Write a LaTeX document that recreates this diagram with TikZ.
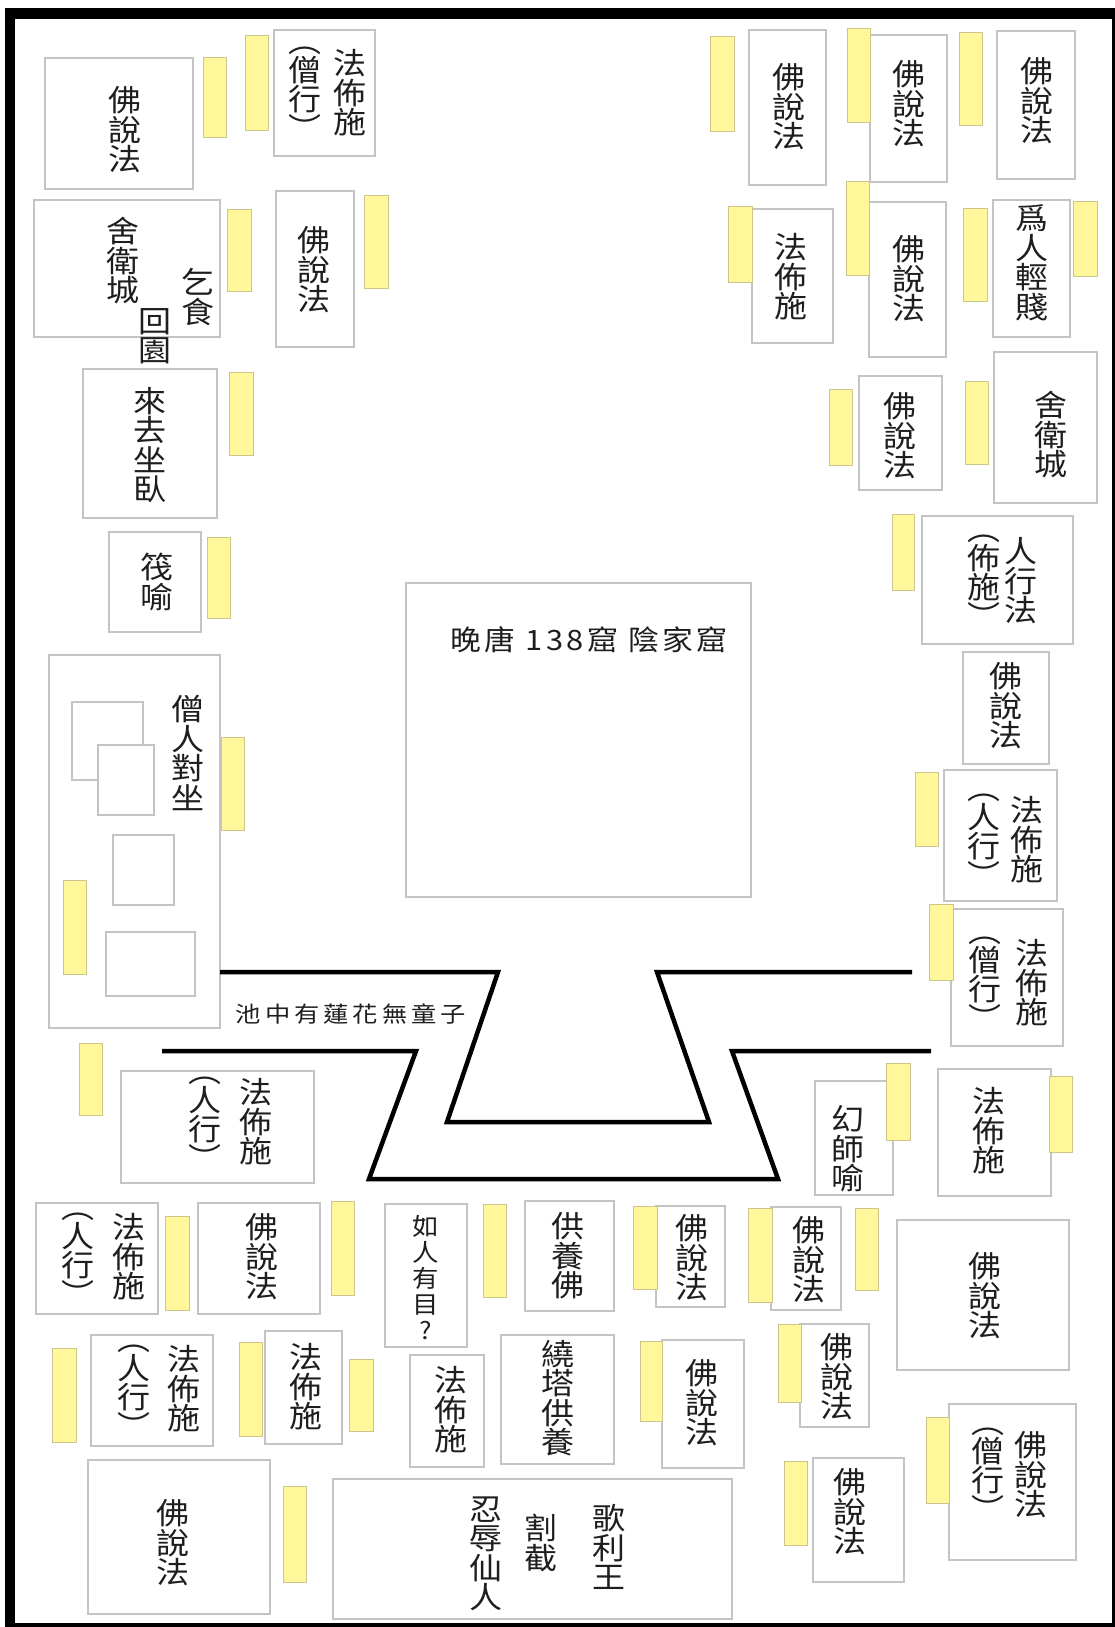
\documentclass[tikz,border=0pt]{standalone}
\usepackage{fontspec}
\newfontfamily\cjk[FakeStretch=1.1]{Noto Sans CJK TC}
\newfontfamily\cjkti[FakeStretch=1.1,LetterSpace=12]{Noto Sans CJK TC}
\newfontfamily\cjkpl[FakeStretch=1.15,LetterSpace=18]{Noto Sans CJK TC}
\definecolor{boxgray}{RGB}{196,196,196}
\definecolor{yelfill}{RGB}{255,247,153}
\definecolor{yeledge}{RGB}{205,198,140}
\definecolor{txtc}{RGB}{30,30,30}
\newcommand\pbx[4]{\draw[pbox] (#1,#2) rectangle (#3,#4);}
\newcommand\ybx[4]{\draw[yelbar] (#1,#2) rectangle (#3,#4);}
\newcommand\brkcol[2]{︵\\[-1pt]#1\\#2\\[-1pt]︶}
\tikzset{
  pbox/.style={draw=boxgray, line width=1.3pt, fill=white},
  yelbar/.style={draw=yeledge, line width=0.9pt, fill=yelfill},
  vt/.style={font={\cjk\fontsize{30}{29.5}\selectfont\lineskiplimit=-50pt}, align=center, inner sep=0pt, text=txtc},
  vts/.style={font={\cjk\fontsize{24}{26}\selectfont\lineskiplimit=-50pt}, align=center, inner sep=0pt, text=txtc},
  ttl/.style={font={\cjkti\fontsize{28}{30}\selectfont}, inner sep=0pt, text=txtc},
  pooltxt/.style={font={\cjkpl\fontsize{22}{24}\selectfont}, inner sep=0pt, text=txtc},
  poolline/.style={line width=4.5pt, black}
}
\begin{document}
\begin{tikzpicture}[x=1pt,y=-1pt]
\useasboundingbox (0,0) rectangle (1115,1627);
% frame
\fill[white] (0,0) rectangle (1115,1627);
\fill[black] (5,8) rectangle (1115,1627);
\fill[white] (15,19) rectangle (1112,1623);

% boxes: top-left
\pbx{45}{58}{193}{189}
\pbx{274}{30}{375}{156}
\pbx{34}{200}{220}{337}
\pbx{276}{191}{354}{347}
\pbx{83}{369}{217}{518}
\pbx{109}{532}{201}{632}
\pbx{49}{655}{220}{1028}
\pbx{72}{702}{143}{780}
\pbx{98}{745}{154}{815}
\pbx{113}{835}{174}{905}
\pbx{106}{932}{195}{996}
% centre
\pbx{406}{583}{751}{897}
\pbx{121}{1071}{314}{1183}
% top-right
\pbx{749}{30}{826}{185}
\pbx{870}{35}{947}{182}
\pbx{997}{31}{1075}{179}
\pbx{752}{209}{833}{343}
\pbx{869}{202}{946}{357}
\pbx{993}{200}{1070}{337}
\pbx{859}{376}{942}{490}
\pbx{994}{352}{1097}{503}
\pbx{922}{516}{1073}{644}
\pbx{963}{652}{1049}{764}
\pbx{944}{770}{1057}{901}
\pbx{951}{909}{1063}{1046}
\pbx{815}{1081}{893}{1195}
\pbx{938}{1069}{1051}{1196}
% bottom rows
\pbx{36}{1203}{158}{1314}
\pbx{198}{1203}{320}{1314}
\pbx{385}{1204}{467}{1347}
\pbx{525}{1201}{614}{1311}
\pbx{656}{1206}{725}{1307}
\pbx{771}{1207}{841}{1310}
\pbx{897}{1220}{1069}{1370}
\pbx{91}{1335}{213}{1446}
\pbx{265}{1331}{342}{1444}
\pbx{410}{1355}{484}{1467}
\pbx{501}{1335}{614}{1464}
\pbx{662}{1340}{744}{1468}
\pbx{800}{1324}{869}{1427}
\pbx{949}{1404}{1076}{1560}
\pbx{813}{1458}{904}{1582}
\pbx{88}{1460}{270}{1614}
\pbx{333}{1479}{732}{1619}

% yellow bars
\ybx{203}{57}{226}{137}
\ybx{245}{35}{268}{130}
\ybx{227}{209}{251}{291}
\ybx{364}{195}{388}{288}
\ybx{229}{372}{253}{455}
\ybx{207}{537}{230}{618}
\ybx{63}{880}{86}{974}
\ybx{221}{737}{244}{830}
\ybx{79}{1043}{102}{1115}
\ybx{710}{36}{734}{131}
\ybx{847}{28}{870}{122}
\ybx{959}{32}{982}{125}
\ybx{728}{206}{752}{282}
\ybx{846}{181}{869}{275}
\ybx{963}{208}{987}{301}
\ybx{1073}{201}{1097}{276}
\ybx{829}{389}{852}{465}
\ybx{965}{381}{988}{464}
\ybx{892}{514}{914}{590}
\ybx{915}{772}{938}{846}
\ybx{929}{904}{953}{980}
\ybx{886}{1063}{910}{1140}
\ybx{1049}{1076}{1072}{1152}
\ybx{165}{1216}{189}{1310}
\ybx{331}{1201}{354}{1295}
\ybx{483}{1204}{506}{1297}
\ybx{633}{1206}{657}{1289}
\ybx{748}{1208}{772}{1302}
\ybx{855}{1208}{878}{1290}
\ybx{52}{1348}{76}{1442}
\ybx{239}{1342}{262}{1436}
\ybx{349}{1359}{373}{1431}
\ybx{640}{1341}{662}{1421}
\ybx{778}{1324}{801}{1402}
\ybx{926}{1417}{949}{1503}
\ybx{784}{1461}{807}{1545}
\ybx{283}{1486}{306}{1582}

% pool outline
\coordinate (pa1) at (220,972);
\coordinate (pa2) at (498,972);
\coordinate (pa3) at (447,1122);
\coordinate (pa4) at (709,1122);
\coordinate (pa5) at (657,972);
\coordinate (pa6) at (912,972);
\coordinate (pb1) at (162,1051);
\coordinate (pb2) at (416,1051);
\coordinate (pb3) at (369,1179);
\coordinate (pb4) at (778,1179);
\coordinate (pb5) at (732,1051);
\coordinate (pb6) at (931,1051);
\draw[poolline] (pa1) -- (pa2) -- (pa3) -- (pa4) -- (pa5) -- (pa6);
\draw[poolline] (pb1) -- (pb2) -- (pb3) -- (pb4) -- (pb5) -- (pb6);

% texts
\node[vt] (tA) at (125,130) {佛\\說\\法};
\node[vt] (tB1) at (350,93) {法\\佈\\施};
\node[vt] (tB2) at (305,93) {\brkcol{僧}{行}};
\node[vt] (tC1) at (123,261) {舍\\衛\\城};
\node[vt] (tC2) at (198,297) {乞\\食};
\node[vt] (tC3) at (155,336) {回\\園};
\node[vt] (tD) at (314,270) {佛\\說\\法};
\node[vt] (tE) at (150,445) {來\\去\\坐\\臥};
\node[vt] (tF) at (157,582) {筏\\喻};
\node[vt] (tG) at (188,753) {僧\\人\\對\\坐};
\node[ttl] (tH) at (589,640) {晚唐 138窟 陰家窟};
\node[pooltxt] (tP) at (351,1014) {池中有蓮花無童子};
\node[vt] (tI1) at (256,1122) {法\\佈\\施};
\node[vt] (tI2) at (205,1123) {\brkcol{人}{行}};
\node[vt] (tJ) at (789,107) {佛\\說\\法};
\node[vt] (tK) at (909,104) {佛\\說\\法};
\node[vt] (tL) at (1037,101) {佛\\說\\法};
\node[vt] (tM) at (791,277) {法\\佈\\施};
\node[vt] (tN) at (909,279) {佛\\說\\法};
\node[vt] (tO) at (1032,263) {爲\\人\\輕\\賤};
\node[vt] (tPP) at (900,436) {佛\\說\\法};
\node[vt] (tQ) at (1051,435) {舍\\衛\\城};
\node[vt] (tR1) at (1021,581) {人\\行\\法};
\node[vt] (tR2) at (984,581) {\brkcol{佈}{施}};
\node[vt] (tS) at (1006,706) {佛\\說\\法};
\node[vt] (tT1) at (1027,840) {法\\佈\\施};
\node[vt] (tT2) at (984,840) {\brkcol{人}{行}};
\node[vt] (tU1) at (1032,983) {法\\佈\\施};
\node[vt] (tU2) at (985,983) {\brkcol{僧}{行}};
\node[vt] (tV) at (848,1149) {幻\\師\\喻};
\node[vt] (tW) at (989,1131) {法\\佈\\施};
\node[vt] (tX1a) at (129,1257) {法\\佈\\施};
\node[vt] (tX1b) at (78,1259) {\brkcol{人}{行}};
\node[vt] (tX2) at (262,1257) {佛\\說\\法};
\node[vts] (tX3) at (426,1278) {如\\人\\有\\目\\?};
\node[vt] (tX4) at (568,1256) {供\\養\\佛};
\node[vt] (tX5) at (692,1258) {佛\\說\\法};
\node[vt] (tX6) at (809,1260) {佛\\說\\法};
\node[vt] (tX7) at (985,1296) {佛\\說\\法};
\node[vt] (tR2a1) at (184,1389) {法\\佈\\施};
\node[vt] (tR2a2) at (134,1391) {\brkcol{人}{行}};
\node[vt] (tR2b) at (306,1387) {法\\佈\\施};
\node[vt] (tR2c) at (451,1410) {法\\佈\\施};
\node[vt] (tR2d) at (558,1398) {繞\\塔\\供\\養};
\node[vt] (tR2e) at (702,1403) {佛\\說\\法};
\node[vt] (tR2f) at (837,1377) {佛\\說\\法};
\node[vt] (tR2g1) at (1031,1475) {佛\\說\\法};
\node[vt] (tR2g2) at (988,1474) {\brkcol{僧}{行}};
\node[vt] (tR2h) at (850,1512) {佛\\說\\法};
\node[vt] (tR3a) at (173,1543) {佛\\說\\法};
\node[vt] (tR3b1) at (486,1554) {忍\\辱\\仙\\人};
\node[vt] (tR3b2) at (541,1543) {割\\截};
\node[vt] (tR3b3) at (609,1547) {歌\\利\\王};
\end{tikzpicture}
\end{document}
